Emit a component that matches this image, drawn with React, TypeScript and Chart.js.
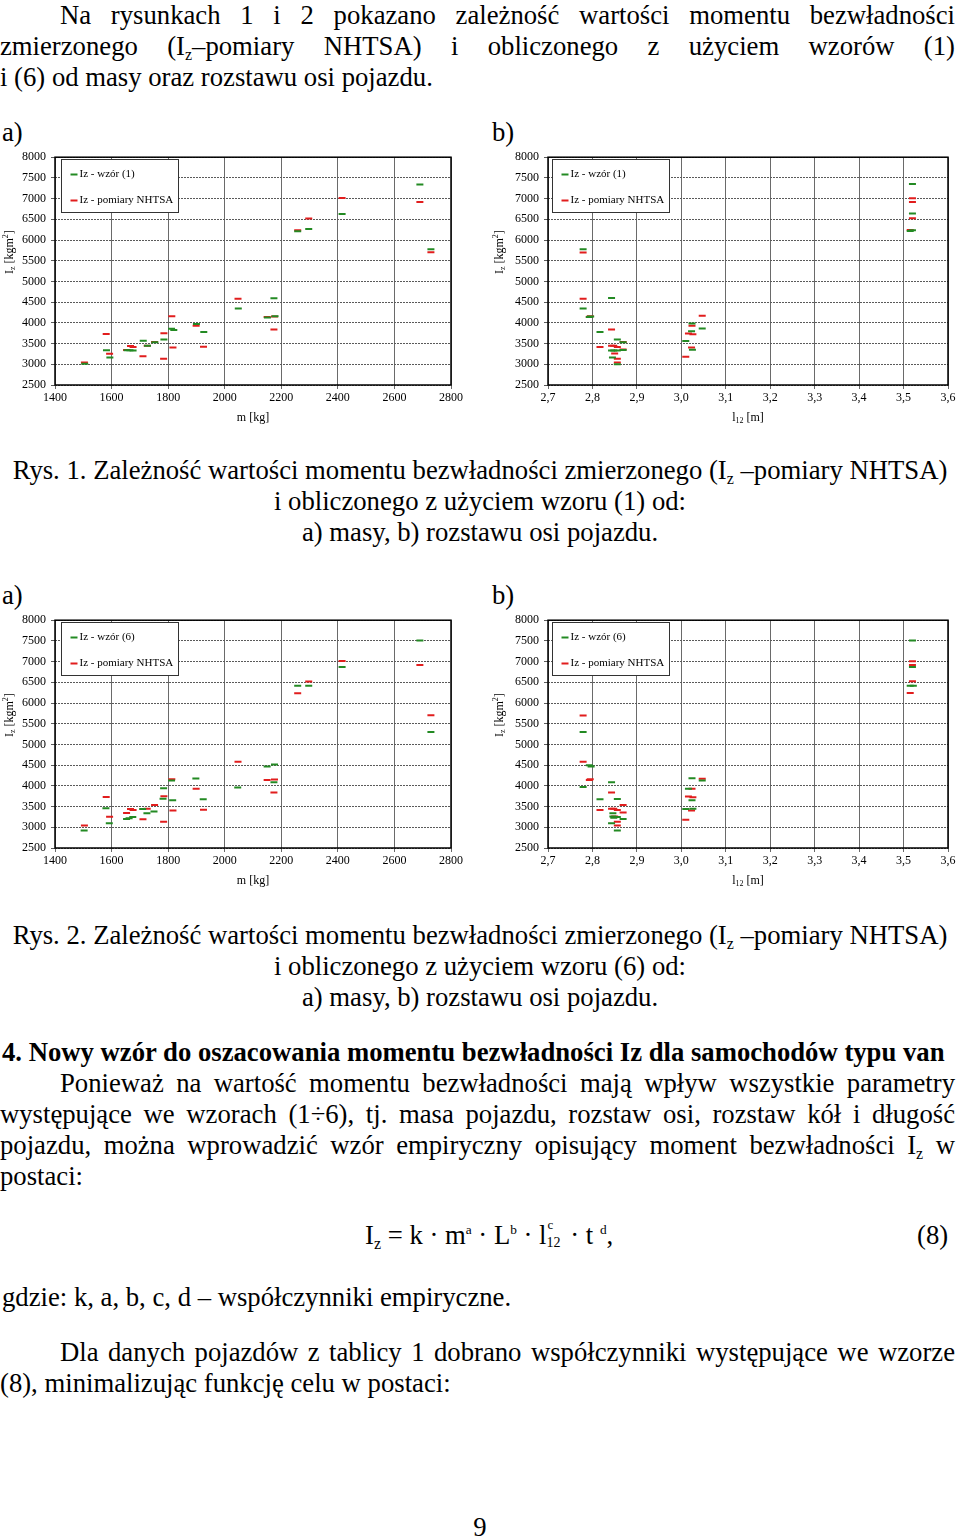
import React, { useEffect, useRef } from 'react';
import { Chart, registerables } from 'chart.js';

Chart.register(...registerables);

// ---------- axis ticks ----------
const IZ_TICKS = [2500, 3000, 3500, 4000, 4500, 5000, 5500, 6000, 6500, 7000, 7500, 8000];
const MASS_TICKS = [1400, 1600, 1800, 2000, 2200, 2400, 2600, 2800];
const WHEELBASE_TICKS = [2.7, 2.8, 2.9, 3.0, 3.1, 3.2, 3.3, 3.4, 3.5, 3.6];

// ---------- Fig. 1a : Iz vs mass, formula (1) ----------
const F1A_FORMULA_MASS = [1505, 1582, 1594, 1655, 1665, 1676, 1712, 1727, 1753, 1785, 1812, 1820, 1900, 1926, 2048, 2151, 2178, 2174, 2258, 2297, 2415, 2690, 2729];
const F1A_FORMULA_IZ = [3015, 3340, 3164, 3340, 3340, 3330, 3570, 3445, 3530, 3600, 3860, 3830, 3975, 3780, 4345, 4130, 4160, 4596, 6210, 6264, 6630, 7340, 5776];

// ---------- Fig. 2a : Iz vs mass, formula (6) ----------
const F2A_FORMULA_MASS = [1503, 1580, 1592, 1653, 1662, 1675, 1710, 1725, 1750, 1782, 1784, 1812, 1816, 1898, 1924, 2046, 2150, 2176, 2174, 2258, 2297, 2415, 2690, 2729];
const F2A_FORMULA_IZ = [2920, 3460, 3100, 3200, 3220, 3250, 3440, 3340, 3380, 3690, 3940, 4130, 3650, 4180, 3680, 3960, 4470, 4515, 4090, 6415, 6415, 6870, 7510, 5300];

// ---------- NHTSA measurements vs mass (Fig. 1a, 2a) ----------
const NHTSA_MASS = [1504, 1581, 1593, 1653, 1667, 1676, 1711, 1726, 1752, 1785, 1784, 1813, 1817, 1899, 1925, 2047, 2150, 2176, 2174, 2258, 2297, 2415, 2690, 2729];
const NHTSA_IZ_M = [3045, 3732, 3254, 3348, 3440, 3415, 3192, 3448, 3540, 3752, 3132, 4160, 3405, 3928, 3425, 4585, 4140, 4155, 3838, 6235, 6520, 7012, 6920, 5703];

// ---------- Fig. 1b : Iz vs wheelbase, formula (1) ----------
const F1B_FORMULA_L = [2.779, 2.779, 2.793, 2.796, 2.817, 2.843, 2.843, 2.848, 2.856, 2.856, 2.869, 2.869, 2.845, 2.856, 3.010, 3.023, 3.024, 3.025, 3.047, 3.52, 3.52, 3.515, 3.52];
const F1B_FORMULA_IZ = [5776, 4345, 4140, 4155, 3780, 4600, 3330, 3335, 3330, 3600, 3530, 3345, 3165, 3000, 3560, 3800, 3985, 3350, 3865, 7350, 6640, 6220, 6235];

// ---------- Fig. 2b : Iz vs wheelbase, formula (6) ----------
const F2B_FORMULA_L = [2.779, 2.793, 2.797, 2.779, 2.817, 2.843, 2.856, 2.846, 2.846, 2.856, 2.869, 2.843, 2.856, 2.848, 3.024, 3.016, 3.024, 3.010, 3.026, 3.047, 3.52, 3.52, 3.515, 3.522];
const F2B_FORMULA_IZ = [5300, 4500, 4470, 3975, 3675, 4090, 3685, 3340, 3260, 3250, 3200, 3100, 2920, 3230, 4185, 3930, 3650, 3440, 3450, 4130, 7510, 6870, 6415, 6415];

// ---------- NHTSA measurements vs wheelbase (Fig. 1b, 2b) ----------
const NHTSA_L = [2.779, 2.779, 2.793, 2.795, 2.817, 2.843, 2.869, 2.843, 2.848, 2.856, 2.869, 2.850, 2.856, 2.856, 3.024, 3.016, 3.026, 3.023, 3.010, 3.047, 3.52, 3.52, 3.52, 3.515];
const NHTSA_IZ_L = [5700, 4585, 4140, 4160, 3420, 3840, 3540, 3450, 3445, 3420, 3355, 3262, 3132, 3045, 3930, 3742, 3725, 3405, 3185, 4170, 7010, 6920, 6525, 6245];

const GREEN = '#238a23';
const RED = '#e11d1d';
const SERIF = '"Liberation Serif", "Times New Roman", serif';

type Part = { t: string; s: number; dy?: number };

function drawRich(ctx: CanvasRenderingContext2D, parts: Part[], cx: number, cy: number) {
  let total = 0;
  for (const p of parts) {
    ctx.font = `${p.s}px ${SERIF}`;
    total += ctx.measureText(p.t).width;
  }
  let x = cx - total / 2;
  ctx.textBaseline = 'middle';
  ctx.textAlign = 'left';
  for (const p of parts) {
    ctx.font = `${p.s}px ${SERIF}`;
    ctx.fillText(p.t, x, cy + (p.dy || 0));
    x += ctx.measureText(p.t).width;
  }
}

const decorPlugin = {
  id: 'decor',
  afterDraw(chart: any, _args: any, opts: any) {
    const ctx: CanvasRenderingContext2D = chart.ctx;
    const a = chart.chartArea;
    ctx.save();
    // frame
    ctx.strokeStyle = '#000';
    ctx.lineWidth = 1.5;
    ctx.setLineDash([]);
    ctx.strokeRect(a.left, a.top, a.right - a.left, a.bottom - a.top);

    // legend box
    const bx = Math.round(a.left + opts.legendDx) + 0.5;
    const by = Math.round(a.top + 2) + 0.5;
    const bw = 117;
    const bh = 53;
    ctx.fillStyle = '#fff';
    ctx.fillRect(bx, by, bw, bh);
    ctx.strokeStyle = '#333';
    ctx.lineWidth = 1;
    ctx.strokeRect(bx, by, bw, bh);
    const items = [
      { c: GREEN, label: opts.formulaLabel, y: by + 15 },
      { c: RED, label: 'Iz - pomiary NHTSA', y: by + 41 },
    ];
    for (const it of items) {
      ctx.strokeStyle = it.c;
      ctx.lineWidth = 2;
      ctx.beginPath();
      ctx.moveTo(bx + 9, it.y);
      ctx.lineTo(bx + 16, it.y);
      ctx.stroke();
      ctx.fillStyle = '#000';
      ctx.font = `11px ${SERIF}`;
      ctx.textBaseline = 'middle';
      ctx.textAlign = 'left';
      ctx.fillText(it.label, bx + 18, it.y);
    }

    // x title
    ctx.fillStyle = '#000';
    const xc = (a.left + a.right) / 2;
    const xy = a.bottom + 33;
    if (opts.xKind === 'mass') {
      drawRich(ctx, [{ t: 'm [kg]', s: 12 }], xc, xy);
    } else {
      drawRich(ctx, [{ t: 'l', s: 12 }, { t: '12', s: 8, dy: 3 }, { t: ' [m]', s: 12 }], xc, xy);
    }

    // y title (rotated)
    ctx.save();
    ctx.translate(opts.yTitleX, (a.top + a.bottom) / 2 - 19);
    ctx.rotate(-Math.PI / 2);
    drawRich(ctx, [
      { t: 'I', s: 12 },
      { t: 'z', s: 8, dy: 3 },
      { t: ' [kgm', s: 12 },
      { t: '2', s: 8, dy: -4 },
      { t: ']', s: 12 },
    ], 0, 0);
    ctx.restore();
    ctx.restore();
  },
};

type PanelProps = {
  left: number;
  top: number;
  xKind: 'mass' | 'wheelbase';
  formulaLabel: string;
  fx: number[];
  fy: number[];
  mx: number[];
  my: number[];
};

function Panel({ left, top, xKind, formulaLabel, fx, fy, mx, my }: PanelProps) {
  const ref = useRef<HTMLCanvasElement | null>(null);
  useEffect(() => {
    if (!ref.current) return;
    const isMass = xKind === 'mass';
    const xTicks = isMass ? MASS_TICKS : WHEELBASE_TICKS;
    const yAxisW = isMass ? 55 : 58;
    const padRight = isMass ? 19 : 12;
    const toPts = (xs: number[], ys: number[]) => xs.map((x, i) => ({ x, y: ys[i] }));
    const tickFont = { family: SERIF, size: 12 };
    const chart = new Chart(ref.current, {
      type: 'scatter',
      data: {
        datasets: [
          {
            label: formulaLabel,
            data: toPts(fx, fy),
            pointStyle: 'line',
            pointRadius: 3.5,
            pointBorderWidth: 2,
            borderColor: GREEN,
            backgroundColor: GREEN,
            pointHoverRadius: 3.5,
          },
          {
            label: 'Iz - pomiary NHTSA',
            data: toPts(mx, my),
            pointStyle: 'line',
            pointRadius: 3.5,
            pointBorderWidth: 2,
            borderColor: RED,
            backgroundColor: RED,
            pointHoverRadius: 3.5,
          },
        ],
      },
      options: {
        animation: false,
        responsive: false,
        maintainAspectRatio: false,
        events: [],
        layout: { padding: { left: 0, top: 12, right: padRight, bottom: 0 } },
        plugins: {
          legend: { display: false },
          tooltip: { enabled: false },
          decor: { legendDx: isMass ? 6 : 4, formulaLabel, xKind, yTitleX: 10 },
        } as any,
        scales: {
          x: {
            type: 'linear',
            min: xTicks[0],
            max: xTicks[xTicks.length - 1],
            afterBuildTicks: (s: any) => {
              s.ticks = xTicks.map((v) => ({ value: v }));
            },
            afterFit: (s: any) => {
              s.height = 50;
            },
            ticks: {
              color: '#000',
              font: tickFont,
              padding: 2,
              maxRotation: 0,
              autoSkip: false,
              callback: (v: any) => (isMass ? String(v) : Number(v).toFixed(1).replace('.', ',')),
            },
            grid: { color: '#6a6a6a', lineWidth: 1, tickLength: 4, drawTicks: true },
            border: { display: false },
          },
          y: {
            type: 'linear',
            min: IZ_TICKS[0],
            max: IZ_TICKS[IZ_TICKS.length - 1],
            afterBuildTicks: (s: any) => {
              s.ticks = IZ_TICKS.map((v) => ({ value: v }));
            },
            afterFit: (s: any) => {
              s.width = yAxisW;
            },
            ticks: {
              color: '#000',
              font: tickFont,
              padding: 5,
              autoSkip: false,
              callback: (v: any) => String(v),
            },
            grid: { color: '#5a5a5a', lineWidth: 1, tickLength: 4, drawTicks: true },
            border: { display: false, dash: [2, 1] },
          },
        },
      },
      plugins: [decorPlugin as any],
    });
    return () => chart.destroy();
  }, [left, top, xKind, formulaLabel, fx, fy, mx, my]);
  return (
    <canvas
      ref={ref}
      width={470}
      height={290}
      style={{ position: 'absolute', left, top, width: 470, height: 290 }}
    />
  );
}

const FS = 26.7;

const baseText: React.CSSProperties = {
  position: 'absolute',
  fontFamily: SERIF,
  fontSize: FS,
  lineHeight: '31px',
  height: 31,
  whiteSpace: 'nowrap',
  color: '#000',
};

const subStyle: React.CSSProperties = { fontSize: '0.6em', verticalAlign: '-0.3em', lineHeight: 0 };
const supStyle: React.CSSProperties = { fontSize: '0.5em', verticalAlign: '0.75em', lineHeight: 0 };

function TLine({
  top,
  left = 0,
  width = 955,
  indent = 0,
  align = 'left',
  bold = false,
  children,
}: {
  top: number;
  left?: number;
  width?: number;
  indent?: number;
  align?: 'left' | 'justify' | 'center';
  bold?: boolean;
  children: React.ReactNode;
}) {
  return (
    <div
      style={{
        ...baseText,
        top,
        left,
        width,
        textIndent: indent,
        textAlign: align,
        textAlignLast: align === 'justify' ? 'justify' : undefined,
        fontWeight: bold ? 'bold' : 'normal',
      }}
    >
      {children}
    </div>
  );
}

const Iz = () => (
  <span>
    I<span style={subStyle}>z</span>
  </span>
);

export default function App() {
  return (
    <div style={{ position: 'absolute', left: 0, top: 0, width: 960, height: 1540, background: '#fff', overflow: 'hidden' }}>
      <TLine top={0} indent={60} align="justify">
        Na rysunkach 1 i 2 pokazano zależność wartości momentu bezwładności
      </TLine>
      <TLine top={31} align="justify">
        zmierzonego (<Iz />–pomiary NHTSA) i obliczonego z użyciem wzorów (1)
      </TLine>
      <TLine top={62}>i (6) od masy oraz rozstawu osi pojazdu.</TLine>

      <TLine top={117} left={2} width={40}>a)</TLine>
      <TLine top={117} left={492} width={40}>b)</TLine>

      <Panel left={0} top={145} xKind="mass" formulaLabel="Iz - wzór (1)" fx={F1A_FORMULA_MASS} fy={F1A_FORMULA_IZ} mx={NHTSA_MASS} my={NHTSA_IZ_M} />
      <Panel left={490} top={145} xKind="wheelbase" formulaLabel="Iz - wzór (1)" fx={F1B_FORMULA_L} fy={F1B_FORMULA_IZ} mx={NHTSA_L} my={NHTSA_IZ_L} />

      <TLine top={455} width={960} align="center">
        Rys. 1. Zależność wartości momentu bezwładności zmierzonego (<Iz /> –pomiary NHTSA)
      </TLine>
      <TLine top={486} width={960} align="center">i obliczonego z użyciem wzoru (1) od:</TLine>
      <TLine top={517} width={960} align="center">a) masy, b) rozstawu osi pojazdu.</TLine>

      <TLine top={580} left={2} width={40}>a)</TLine>
      <TLine top={580} left={492} width={40}>b)</TLine>

      <Panel left={0} top={608} xKind="mass" formulaLabel="Iz - wzór (6)" fx={F2A_FORMULA_MASS} fy={F2A_FORMULA_IZ} mx={NHTSA_MASS} my={NHTSA_IZ_M} />
      <Panel left={490} top={608} xKind="wheelbase" formulaLabel="Iz - wzór (6)" fx={F2B_FORMULA_L} fy={F2B_FORMULA_IZ} mx={NHTSA_L} my={NHTSA_IZ_L} />

      <TLine top={920} width={960} align="center">
        Rys. 2. Zależność wartości momentu bezwładności zmierzonego (<Iz /> –pomiary NHTSA)
      </TLine>
      <TLine top={951} width={960} align="center">i obliczonego z użyciem wzoru (6) od:</TLine>
      <TLine top={982} width={960} align="center">a) masy, b) rozstawu osi pojazdu.</TLine>

      <TLine top={1037} left={2} width={958} bold>
        4. Nowy wzór do oszacowania momentu bezwładności Iz dla samochodów typu van
      </TLine>
      <TLine top={1068} indent={60} align="justify">
        Ponieważ na wartość momentu bezwładności mają wpływ wszystkie parametry
      </TLine>
      <TLine top={1099} align="justify">
        występujące we wzorach (1÷6), tj. masa pojazdu, rozstaw osi, rozstaw kół i długość
      </TLine>
      <TLine top={1130} align="justify">
        pojazdu, można wprowadzić wzór empiryczny opisujący moment bezwładności <Iz /> w
      </TLine>
      <TLine top={1161}>postaci:</TLine>

      <div style={{ ...baseText, top: 1220, left: 365 }}>
        I<span style={subStyle}>z</span> = k · m<span style={supStyle}>a</span> · L<span style={supStyle}>b</span> ·
        l
        <span style={{ display: 'inline-block', position: 'relative', width: 17, height: 10, lineHeight: 0 }}>
          <span style={{ position: 'absolute', left: 1, top: -9, fontSize: 13 }}>c</span>
          <span style={{ position: 'absolute', left: 0, top: 9, fontSize: 14 }}>12</span>
        </span>{' '}
        · t <span style={supStyle}>d</span>,
      </div>
      <div style={{ ...baseText, top: 1220, left: 917 }}>(8)</div>

      <TLine top={1282} left={2}>gdzie: k, a, b, c, d – współczynniki empiryczne.</TLine>
      <TLine top={1337} indent={60} align="justify">
        Dla danych pojazdów z tablicy 1 dobrano współczynniki występujące we wzorze
      </TLine>
      <TLine top={1368}>(8), minimalizując funkcję celu w postaci:</TLine>

      <TLine top={1512} width={960} align="center">9</TLine>
    </div>
  );
}
